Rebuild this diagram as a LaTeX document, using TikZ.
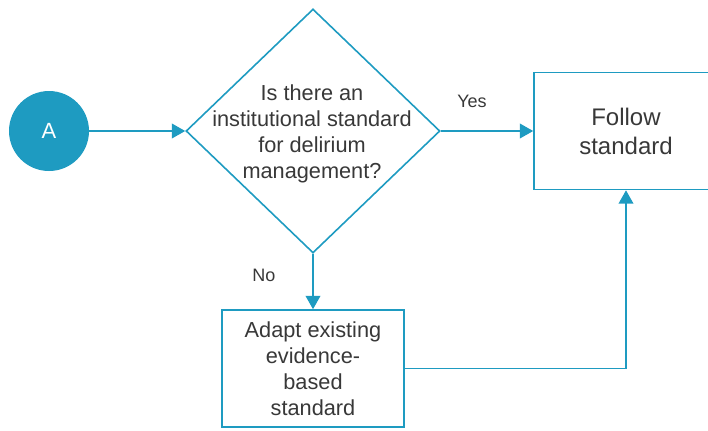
\documentclass[tikz,border=0pt]{standalone}
\usepackage{fontspec}
\setmainfont{Liberation Sans}
\usepackage{xcolor}
\usetikzlibrary{shapes.geometric,arrows.meta}
\definecolor{teal}{HTML}{1E9BC1}
\definecolor{ink}{HTML}{383838}
\tikzset{
  flow/.style={draw=teal, line width=1.2pt},
  startnode/.style={circle, fill=teal, draw=none, minimum size=60pt, inner sep=0pt,
    text=white, font=\fontsize{16.5}{19}\selectfont},
  decide/.style={flow, diamond, minimum width=190.5pt, minimum height=183pt, inner sep=0pt},
  stepbox/.style={flow, rectangle, minimum height=87.75pt, inner sep=0pt, text=ink, align=center},
  lab/.style={text=ink, align=center, font=\fontsize{16.3}{19.6}\selectfont},
  branch/.style={text=ink, font=\fontsize{13.5}{16}\selectfont},
  arr/.style={flow, -{Triangle[length=10pt, width=11pt]}}
}
\begin{document}
\begin{tikzpicture}[x=0.75pt, y=-0.75pt]
  \useasboundingbox (0,0) rectangle (708,430);

  \node[startnode] (start) at (49,131) {A};

  \node[decide] (ask) at (313,131) {};
  \node[lab] (asktext) at (312,134) {Is there an\\institutional standard\\for delirium\\management?};

  \node[stepbox, minimum width=138pt, font=\fontsize{18}{21.8}\selectfont] (follow) at (626,131) {Follow\\standard};
  \node[stepbox, minimum width=136.5pt, font=\fontsize{16.3}{19.5}\selectfont] (adapt) at (313,368.5) {Adapt existing\\evidence-\\based\\standard};

  \draw[arr] (start.east) -- (ask.west);
  \draw[arr] (ask.east) -- (follow.west);
  \draw[arr] (ask.south) -- (adapt.north);
  \draw[arr] (adapt.east) -| (follow.south);

  \node[branch] (yes) at (472,101) {Yes};
  \node[branch] (no) at (264,275) {No};
\end{tikzpicture}
\end{document}
